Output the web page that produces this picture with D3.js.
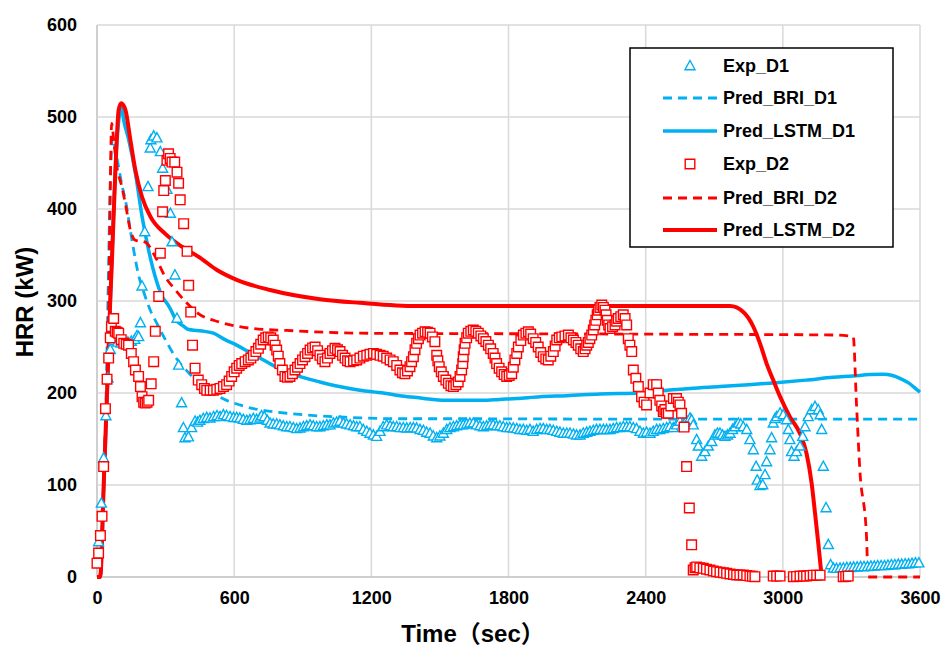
<!DOCTYPE html>
<html><head><meta charset="utf-8">
<script src="https://cdn.jsdelivr.net/npm/d3@7/dist/d3.min.js"></script>
<style>
html,body{margin:0;padding:0;background:#fff;}
text{font-family:"Liberation Sans",Arial,"Noto Sans CJK JP",sans-serif;font-weight:bold;fill:#000;}
</style></head>
<body><svg id="c" width="944" height="646"></svg>
<script>
const xTicks=[0,600,1200,1800,2400,3000,3600];
const yTicks=[0,100,200,300,400,500,600];
const seriesNames=["Exp_D1","Pred_BRI_D1","Pred_LSTM_D1","Exp_D2","Pred_BRI_D2","Pred_LSTM_D2"];

const briD1=[[0,0],[14,0],[28,80],[40,200],[50,330],[58,430],[68,478],[80,465],[95,445],[110,425],[124,410],[153,366],[182,328],[204,310],[233,290],[255,279],[299,258],[343,239],[401,222],[460,208],[520,198],[567,192],[625,187],[684,183],[760,180],[830,178],[900,176.5],[975,175],[1060,174],[1150,173],[1300,172],[1600,172],[2400,171.5],[3600,171.5]];
const lstmD1=[[0,0],[14,0],[29,95],[44,195],[58,298],[70,380],[85,465],[98,502],[106,511],[118,495],[139,475],[168,439],[197,392],[226,355],[255,326],[285,305],[310,296],[330,287],[343,280],[377,273],[401,269],[436,268],[470,267],[509,265],[560,258],[611,252],[662,245],[713,238],[770,230],[830,223],[900,217],[975,212],[1060,207],[1150,203],[1252,200],[1325,197],[1398,195],[1470,193],[1544,192],[1620,192],[1690,192],[1760,193],[1836,194],[1938,196],[2055,197],[2200,199],[2375,200],[2450,202],[2594,205],[2725,207],[2850,209],[2958,211],[3100,214],[3220,217],[3308,218.5],[3380,220],[3439,220.5],[3480,219],[3512,216],[3550,211],[3580,205],[3600,201]];
const briD2=[[0,0],[12,0],[25,70],[38,170],[50,270],[58,420],[64,493],[75,470],[87,446],[109,424],[124,406],[146,377],[168,366],[211,364],[255,348],[299,326],[343,312],[392,298],[445,286],[538,277],[684,270],[830,268],[1150,265],[2400,264],[3235,263],[3308,261],[3322,189],[3337,116],[3366,44],[3373,0],[3600,0]];
const lstmD2=[[0,0],[14,0],[29,98],[44,200],[58,301],[66,348],[80,439],[95,508],[106,515],[124,508],[146,475],[168,442],[197,413],[233,392],[299,373],[372,359],[445,348],[523,334],[611,323],[757,312],[975,302],[1150,298],[1398,294.5],[2769,294.5],[2827,288],[2871,272],[2900,254],[2929,232],[2958,214],[2988,196],[3031,174],[3075,156],[3104,134],[3126,102],[3141,69],[3155,37],[3170,0]];

const expD1=[[7,38],[19,80],[29,129],[39,175],[48,216],[58,247],[63,259],[75,257],[90,255],[105,254],[120,256],[135,255],[150,256],[165,258],[175,262],[182,261],[190,276],[197,316],[209,375],[223,424],[233,466],[236,475],[248,479],[262,477],[277,462],[287,444],[306,421],[321,395],[328,364],[341,328],[350,281],[357,230],[370,189],[378,162],[385,151],[400,152],[414,162],[429,169],[440,168],[450,170],[465,172],[480,173],[494,172.5],[510,174],[525,175],[538,174],[553,176],[567,175],[582,174],[597,173],[611,173],[625,172.5],[640,171],[655,170],[669,170.6],[684,172],[698,171],[713,172.5],[720,175],[732,174],[745,170],[757,167],[771,166],[786,166],[800,165],[815,164],[830,163],[844,163],[859,162],[873,161],[888,161.6],[903,163],[917,164],[932,165],[946,164],[961,163],[975,163],[990,164],[1005,165],[1019,165],[1034,167],[1048,168],[1063,169],[1078,167],[1092,166],[1107,165],[1122,164],[1136,163],[1150,163],[1165,160],[1180,158],[1194,156],[1209,154],[1223,152.5],[1238,158],[1252,163],[1267,165],[1282,164],[1296,163],[1311,163],[1325,162],[1340,162],[1355,161.6],[1370,162],[1384,162],[1398,161.6],[1413,160],[1428,159],[1442,157],[1457,156],[1471,153],[1486,151],[1500,153],[1515,156],[1530,160],[1544,162],[1559,163],[1573,164],[1588,165],[1602,165],[1617,166],[1631,167],[1646,167],[1660,165],[1675,164],[1690,163],[1704,164],[1719,165],[1733,165],[1748,164],[1762,164],[1777,163],[1792,162],[1806,162],[1821,161.6],[1836,161],[1850,160],[1865,160],[1880,159],[1894,160],[1908,158],[1923,160],[1938,161],[1952,161],[1967,160],[1981,160],[1996,159],[2011,158],[2025,157],[2040,156],[2055,156],[2069,156],[2084,155],[2098,154],[2113,154],[2127,156],[2142,157],[2156,158],[2171,159],[2185,160],[2200,160],[2215,160],[2229,160],[2244,160],[2258,161],[2273,162],[2288,162],[2302,163],[2317,163],[2331,163],[2346,162],[2360,161],[2375,158],[2390,156],[2404,157],[2419,156],[2433,158],[2448,160],[2462,160],[2477,161],[2492,162],[2506,163],[2521,162],[2535,165],[2550,169],[2565,167],[2579,170],[2594,172.5],[2601,170.6],[2608,165],[2623,149],[2630,142],[2645,131],[2659,136],[2674,142],[2689,147],[2703,154],[2714,156],[2725,156],[2736,154],[2747,152.5],[2758,154],[2769,156],[2780,160],[2791,163],[2805,167],[2816,166],[2827,163],[2842,160],[2856,149],[2871,138],[2883,120],[2888,105],[2900,99],[2912,100],[2922,111],[2929,125],[2944,138],[2951,151],[2958,167],[2966,172],[2973,174],[2988,178],[3002,176],[3016,170.6],[3024,160],[3031,149],[3038,136],[3049,131],[3060,136],[3075,142],[3087,152.5],[3097,163],[3111,174],[3126,181.5],[3141,185],[3155,181.5],[3163,176],[3170,160],[3177,120],[3189,75],[3199,35],[3209,13],[3221,9.4],[3235,9],[3250,9.4],[3265,9.5],[3280,10],[3295,10],[3310,10.5],[3325,10.5],[3340,11],[3355,11],[3370,11],[3385,11.5],[3400,11.5],[3415,12],[3430,12],[3445,12],[3460,12.5],[3475,13],[3490,13],[3505,13.5],[3520,13.5],[3535,14],[3550,14],[3565,14.5],[3580,15],[3595,15]];

const expD2=[[0,15],[7,26],[15,45],[22,66],[29,120],[37,183],[44,215],[51,238],[58,260],[63,272],[73,281],[80,267],[88,266],[95,265],[106,258],[117,254],[128,253],[138,252],[150,243],[160,234],[168,225],[182,218],[190,207],[197,196],[204,190],[211,189],[219,190],[226,192],[237,210],[248,234],[255,267],[270,305],[277,352],[287,397],[292,420],[299,431],[306,453],[313,460],[320,455],[328,451],[340,451],[350,440],[357,428],[364,410],[379,384],[394,354],[401,317],[410,288],[418,252],[429,227],[443,214],[458,209],[470,205],[480,203],[495,203],[509,203],[524,204],[538,205],[553,207],[567,209],[578,213],[589,218],[600,223],[611,227],[622,230],[633,232],[648,234],[662,236],[673,238],[684,241],[695,245],[706,248.6],[716,253],[727,257.6],[738,260],[749,261],[760,260],[771,257.6],[779,252],[786,246.7],[793,240],[800,232],[811,225],[822,218],[833,217],[844,218],[855,221],[866,225],[877,228],[888,232],[899,236],[910,239.5],[921,243],[932,246.7],[943,249],[954,250],[965,246],[975,241],[986,237],[997,234],[1008,238],[1019,243],[1030,246],[1041,248.6],[1052,247],[1063,245],[1074,241],[1085,238],[1096,235],[1107,234],[1122,235],[1136,236],[1150,238],[1165,240],[1180,241],[1194,242],[1209,243],[1223,242],[1238,241],[1252,240],[1267,238],[1282,236],[1296,234],[1311,230],[1325,225],[1336,222],[1347,221],[1358,224],[1369,228.6],[1376,234],[1384,239.5],[1391,247],[1398,254],[1406,259],[1413,263],[1424,265],[1435,266.6],[1446,266],[1457,265],[1467,261],[1478,255.8],[1486,241],[1491,235],[1497,228.6],[1506,223],[1515,218],[1526,214],[1537,210.5],[1548,208],[1559,207],[1570,209],[1580,212],[1588,218],[1595,225],[1600,232],[1602,239.5],[1606,247],[1610,254],[1617,260],[1624,265],[1635,267],[1646,268.5],[1657,267],[1668,265],[1679,262],[1690,259],[1701,256],[1712,252],[1722,248],[1733,243],[1741,238],[1748,232],[1759,227],[1770,223],[1781,220],[1792,218],[1803,219],[1814,221],[1821,228],[1828,236],[1836,243],[1843,250],[1854,257],[1865,263],[1876,265],[1887,266.6],[1897,264],[1908,259],[1919,255],[1930,250],[1941,244],[1952,239.5],[1963,237],[1974,236],[1985,240],[1996,245],[2004,251],[2011,257.6],[2022,260],[2033,261],[2047,262],[2062,263],[2073,260],[2084,257.6],[2095,255],[2105,252],[2116,248],[2127,245],[2135,248],[2142,252],[2149,255],[2156,259],[2164,263],[2171,268.5],[2177,274],[2182,279],[2188,285],[2193,290],[2200,293],[2208,295.6],[2215,293],[2222,290],[2227,285],[2232,279],[2238,274],[2244,270],[2255,272],[2266,274],[2273,278],[2280,281],[2291,283],[2302,285],[2310,281],[2317,274],[2324,259],[2331,252],[2339,245],[2346,225],[2357,216],[2368,207],[2382,196],[2393,190],[2404,187],[2419,200],[2433,209],[2448,209],[2455,200],[2462,192],[2470,186],[2477,180],[2484,182],[2491,178],[2499,178],[2510,186],[2521,194],[2535,194],[2543,190],[2550,187],[2557,178],[2568,163],[2579,120],[2591,75],[2601,35],[2608,7.6],[2616,10],[2623,11],[2637,10],[2652,9.4],[2666,8.5],[2681,7.6],[2696,6.5],[2710,5.8],[2725,5.2],[2740,4.7],[2754,4],[2769,3.3],[2784,2.7],[2798,2.2],[2812,2.2],[2827,2.2],[2842,1.5],[2856,1],[2867,0.7],[2878,0.4],[2958,1],[2973,1],[2988,1],[3046,0.4],[3060,0.6],[3075,1],[3090,1],[3104,1],[3119,1.5],[3133,2],[3148,2],[3163,2],[3264,0.4],[3275,0.6],[3286,1]];

const BLUE="#00B0F0", RED="#FF0000";
const svg=d3.select("#c");
const x=d3.scaleLinear().domain([0,3600]).range([97,920]);
const y=d3.scaleLinear().domain([0,600]).range([577,25]);

// grid
const grid=svg.append("g");
grid.selectAll("line.v").data(xTicks).join("line")
  .attr("x1",d=>x(d)).attr("x2",d=>x(d)).attr("y1",y(0)).attr("y2",y(600))
  .attr("stroke",d=>d===0?"#bfbfbf":"#d9d9d9").attr("stroke-width",1.5);
grid.selectAll("line.h").data(yTicks).join("line")
  .attr("y1",d=>y(d)).attr("y2",d=>y(d)).attr("x1",x(0)).attr("x2",x(3600))
  .attr("stroke",d=>d===0?"#bfbfbf":"#d9d9d9").attr("stroke-width",1.5);

const xAxis=svg.append("g").attr("transform",`translate(0,${y(0)})`)
  .call(d3.axisBottom(x).tickValues(xTicks).tickSize(0).tickPadding(14).tickFormat(d3.format("d")));
xAxis.select(".domain").remove();
xAxis.selectAll("text").attr("font-size",18).attr("dy","0.71em").style("font-family",'"Liberation Sans",Arial,sans-serif').style("font-weight","bold").attr("fill","#000");
const yAxis=svg.append("g").attr("transform",`translate(${x(0)},0)`)
  .call(d3.axisLeft(y).tickValues(yTicks).tickSize(0).tickPadding(20).tickFormat(d3.format("d")));
yAxis.select(".domain").remove();
yAxis.selectAll("text").attr("font-size",18).style("font-family",'"Liberation Sans",Arial,sans-serif').style("font-weight","bold").attr("fill","#000");

svg.append("text").attr("x",473).attr("y",642).attr("text-anchor","middle").attr("font-size",24).text("Time（sec）");
svg.append("text").attr("transform","translate(33,302) rotate(-90)").attr("text-anchor","middle").attr("font-size",24).text("HRR (kW)");

const line=d3.line().x(d=>x(d[0])).y(d=>y(d[1])).curve(d3.curveMonotoneX);
const lines=[
  {data:briD1,color:BLUE,w:2.8,dash:"9,6"},
  {data:lstmD1,color:BLUE,w:3.5,dash:null},
  {data:briD2,color:RED,w:2.8,dash:"9,6"},
  {data:lstmD2,color:RED,w:4,dash:null}
];
lines.forEach(l=>{
  svg.append("path").datum(l.data).attr("d",line).attr("fill","none")
    .attr("stroke",l.color).attr("stroke-width",l.w).attr("stroke-dasharray",l.dash)
    .attr("stroke-linejoin","round");
});

const tri="M0,-5.5L5,3.7L-5,3.7Z";
const sq="M-4.8,-4.8H4.8V4.8H-4.8Z";
svg.append("g").selectAll("path").data(expD1).join("path")
  .attr("d",tri).attr("transform",d=>`translate(${x(d[0])},${y(d[1])})`)
  .attr("fill","#fff").attr("stroke",BLUE).attr("stroke-width",1.4);
svg.append("g").selectAll("path").data(expD2).join("path")
  .attr("d",sq).attr("transform",d=>`translate(${x(d[0])},${y(d[1])})`)
  .attr("fill","#fff").attr("stroke",RED).attr("stroke-width",1.4);

// legend
const lg=svg.append("g");
lg.append("rect").attr("x",630).attr("y",48).attr("width",263).attr("height",199)
  .attr("fill","#fff").attr("stroke","#000").attr("stroke-width",1.5);
const legendItems=[
  {type:"tri",color:BLUE},{type:"line",color:BLUE,dash:"9,6",w:2.8},{type:"line",color:BLUE,dash:null,w:3.5},
  {type:"sq",color:RED},{type:"line",color:RED,dash:"9,6",w:2.8},{type:"line",color:RED,dash:null,w:4}
];
const ly=[66,98,131,164,198,230];
legendItems.forEach((it,i)=>{
  const cy=ly[i];
  if(it.type==="line"){
    lg.append("line").attr("x1",663).attr("x2",717).attr("y1",cy).attr("y2",cy)
      .attr("stroke",it.color).attr("stroke-width",it.w).attr("stroke-dasharray",it.dash);
  } else {
    lg.append("path").attr("d",it.type==="tri"?tri:sq).attr("transform",`translate(690,${cy})`)
      .attr("fill","#fff").attr("stroke",it.color).attr("stroke-width",1.4);
  }
  lg.append("text").attr("x",723).attr("y",cy).attr("dy","0.36em").attr("font-size",18).text(seriesNames[i]);
});
</script></body></html>
